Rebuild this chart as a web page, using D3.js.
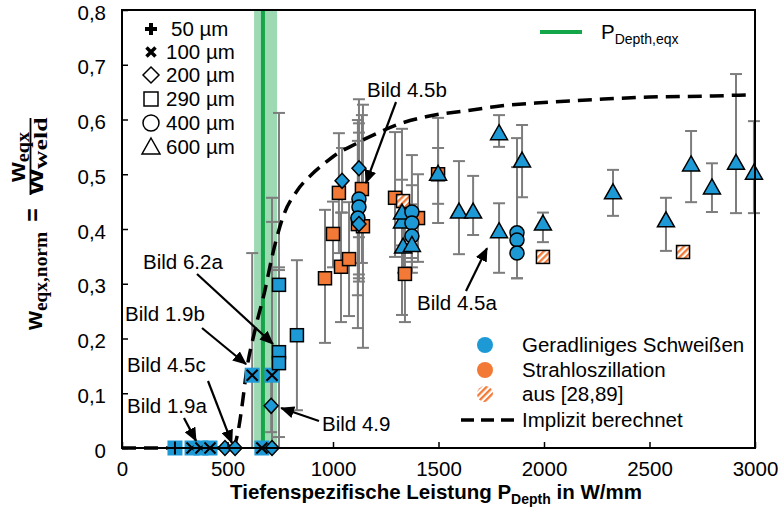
<!DOCTYPE html>
<html>
<head>
<meta charset="utf-8">
<script src="https://cdn.jsdelivr.net/npm/d3@7"></script>
<style>
  body { margin: 0; background: #fff; }
  svg { display: block; }
  text { font-family: "Liberation Sans", Arial, sans-serif; fill: #000; }
</style>
</head>
<body>
<svg id="chart" width="780" height="511"></svg>
<script>
// ---- axis ticks ----
const xTicks = [0, 500, 1000, 1500, 2000, 2500, 3000];
const xTickLabels = ["0", "500", "1000", "1500", "2000", "2500", "3000"];
const yTicks = [0, 0.1, 0.2, 0.3, 0.4, 0.5, 0.6, 0.7, 0.8];
const yTickLabels = ["0", "0,1", "0,2", "0,3", "0,4", "0,5", "0,6", "0,7", "0,8"];

// ---- P_Depth,eqx (threshold and its band) ----
const pDepthEqx = 668;
const pDepthEqxRange = [626, 735];

// ---- Geradliniges Schweißen: P_Depth (W/mm), w_eqx,norm, spot diameter (µm), error bar ends ----
const blueP  = [251, 332, 374, 417, 488, 536, 663, 711, 617, 711, 707, 744, 744, 744, 829,
                1043, 1123, 1123, 1123, 1118, 1123,
                1327, 1327, 1374, 1374, 1374, 1332, 1374,
                1498, 1597, 1664, 1787, 1787, 1896, 1872, 1872, 1872, 1995,
                2327, 2578, 2697, 2796, 2910, 2995];
const blueW  = [0, 0, 0, 0, 0, 0, 0, 0, 0.133, 0.133, 0.077, 0.298, 0.175, 0.155, 0.206,
                0.488, 0.511, 0.455, 0.44, 0.42, 0.409,
                0.413, 0.429, 0.431, 0.411, 0.387, 0.367, 0.37,
                0.50, 0.431, 0.431, 0.574, 0.395, 0.524, 0.393, 0.38, 0.356, 0.409,
                0.466, 0.415, 0.517, 0.475, 0.52, 0.502];
const blueD  = [50, 100, 100, 100, 200, 200, 100, 200, 100, 100, 200, 290, 290, 290, 290,
                200, 200, 400, 400, 400, 200,
                600, 600, 400, 400, 400, 600, 600,
                600, 600, 600, 600, 600, 600, 400, 400, 400, 600,
                600, 600, 600, 600, 600, 600];
const blueLo = [null, null, null, null, null, null, null, 0, 0, 0, 0.029, 0, 0.02, 0, 0.069,
                0.43, 0.385, 0.317, 0.304, 0.279, 0.31,
                0.243, 0.37, 0.347, 0.34, 0.33, 0.32, 0.32,
                0.446, 0.354, 0.389, 0.55, 0.32, 0.458, 0.31, 0.31, null, 0.376,
                0.424, 0.36, 0.449, 0.431, 0.429, 0.429];
const blueHi = [null, null, null, null, null, null, null, 0.413, 0.356, 0.457, 0.125, 0.612, 0.33, 0.325, 0.343,
                0.548, 0.637, 0.593, 0.576, 0.561, 0.508,
                0.583, 0.49, 0.535, 0.48, 0.445, 0.415, 0.42,
                0.548, 0.524, 0.497, 0.608, 0.447, 0.59, 0.566, 0.513, null, 0.43,
                0.508, 0.457, 0.579, 0.52, 0.683, 0.597];

// ---- Strahloszillation ----
const orangeP  = [962, 1000, 1028, 1038, 1076, 1137, 1118, 1142, 1294, 1341, 1403, 1498];
const orangeW  = [0.31, 0.391, 0.466, 0.331, 0.345, 0.473, 0.409, 0.405, 0.457, 0.318, 0.42, 0.50];
const orangeD  = [290, 290, 290, 290, 290, 290, 290, 290, 290, 290, 290, 290];
const orangeLo = [0.192, 0.33, 0.356, 0.23, 0.241, 0.338, 0.219, 0.183, 0.349, 0.23, 0.34, 0.411];
const orangeHi = [0.435, 0.45, 0.575, 0.43, 0.449, 0.608, 0.599, 0.627, 0.577, 0.41, 0.5, 0.603];

// ---- aus [28,89] ----
const litP = [1332, 1995, 2659];
const litW = [0.451, 0.349, 0.358];
const litD = [290, 290, 290];

// ---- Implizit berechnet ----
const curveP = [0, 525, 550, 570, 590, 630, 678, 711, 763, 830, 900, 960, 1030, 1080, 1160,
                1210, 1300, 1440, 1650, 1800, 1960, 2120, 2265, 2500, 2800, 2960];
const curveW = [0, 0, 0.03, 0.08, 0.14, 0.215, 0.289, 0.349, 0.422, 0.47, 0.50, 0.52, 0.54, 0.55, 0.566,
                0.575, 0.59, 0.605, 0.617, 0.625, 0.63, 0.634, 0.637, 0.641, 0.643, 0.645];

// ---- legend entries ----
const diameterLegend = [50, 100, 200, 290, 400, 600];
const diameterLabels = ["50 µm", "100 µm", "200 µm", "290 µm", "400 µm", "600 µm"];
const groupLabels = ["Geradliniges Schweißen", "Strahloszillation", "aus [28,89]", "Implizit berechnet"];

// ---- figure references (target in data units) ----
const annoLabels = ["Bild 4.5b", "Bild 6.2a", "Bild 1.9b", "Bild 4.5c", "Bild 1.9a", "Bild 4.9", "Bild 4.5a"];
const annoTargetP = [1156, 716, 588, 521, 351, 754, 1730];
const annoTargetW = [0.484, 0.19, 0.153, 0.009, 0.013, 0.073, 0.365];

// ---------------- drawing ----------------
const BLUE = "#1d9ad6", ORANGE = "#f27a36", GREEN = "#16a64a", GREY = "#7d7d7d";
const FS = 20.5;
const svg = d3.select("#chart");
const x = d3.scaleLinear().domain([0, 3000]).range([122, 755]);
const y = d3.scaleLinear().domain([0, 0.8]).range([448, 10]);

const defs = svg.append("defs");
const hatch = defs.append("pattern").attr("id", "hatch")
  .attr("patternUnits", "userSpaceOnUse").attr("width", 4.5).attr("height", 4.5)
  .attr("patternTransform", "rotate(45)");
hatch.append("rect").attr("width", 4.5).attr("height", 4.5).attr("fill", "#fff");
hatch.append("rect").attr("width", 2.3).attr("height", 4.5).attr("fill", ORANGE);
defs.append("marker").attr("id", "arrow").attr("markerUnits", "userSpaceOnUse")
  .attr("viewBox", "0 0 14 12").attr("refX", 13).attr("refY", 6)
  .attr("markerWidth", 14).attr("markerHeight", 12).attr("orient", "auto")
  .append("path").attr("d", "M0,0L14,6L0,12Z").attr("fill", "#000");

// P_Depth,eqx band and line
svg.append("rect")
  .attr("x", x(pDepthEqxRange[0])).attr("y", y(0.8))
  .attr("width", x(pDepthEqxRange[1]) - x(pDepthEqxRange[0])).attr("height", y(0) - y(0.8))
  .attr("fill", GREEN).attr("opacity", 0.42);
svg.append("line")
  .attr("x1", x(pDepthEqx)).attr("x2", x(pDepthEqx)).attr("y1", y(0.8)).attr("y2", y(0))
  .attr("stroke", GREEN).attr("stroke-width", 4);

// error bars
function errorBars(P, lo, hi) {
  const g = svg.append("g").attr("stroke", GREY).attr("stroke-width", 2);
  P.forEach((p, i) => {
    if (lo[i] == null) return;
    const px = x(p);
    g.append("line").attr("x1", px).attr("x2", px).attr("y1", y(lo[i])).attr("y2", y(hi[i]));
    [lo[i], hi[i]].forEach(v => {
      if (v <= 0) return;
      g.append("line").attr("x1", px - 6).attr("x2", px + 6).attr("y1", y(v)).attr("y2", y(v));
    });
  });
}
errorBars(orangeP, orangeLo, orangeHi);
errorBars(blueP, blueLo, blueHi);

// implicit model curve
svg.append("path")
  .datum(curveP.map((p, i) => [p, curveW[i]]))
  .attr("fill", "none").attr("stroke", "#000").attr("stroke-width", 3.5)
  .attr("stroke-dasharray", "14,8")
  .attr("d", d3.line().x(d => x(d[0])).y(d => y(d[1])).curve(d3.curveMonotoneX));

// markers by spot diameter
function marker(g, d, fill) {
  const sw = 1.5;
  if (d === 50 || d === 100) {
    g.append("rect").attr("x", -7.5).attr("y", -7.5).attr("width", 15).attr("height", 15).attr("fill", fill);
    g.append("path").attr("d", d === 50 ? "M-6.5,0H6.5M0,-6.5V6.5" : "M-5.5,-5.5L5.5,5.5M-5.5,5.5L5.5,-5.5")
      .attr("stroke", "#000").attr("stroke-width", 2).attr("fill", "none");
  } else if (d === 200) {
    g.append("path").attr("d", "M0,-7.5L7,0L0,7.5L-7,0Z").attr("fill", fill).attr("stroke", "#000").attr("stroke-width", sw);
  } else if (d === 290) {
    g.append("rect").attr("x", -6.5).attr("y", -6.5).attr("width", 13).attr("height", 13)
      .attr("fill", fill).attr("stroke", "#000").attr("stroke-width", sw);
  } else if (d === 400) {
    g.append("circle").attr("r", 7).attr("fill", fill).attr("stroke", "#000").attr("stroke-width", sw);
  } else {
    g.append("path").attr("d", "M0,-9L8.5,6L-8.5,6Z").attr("fill", fill).attr("stroke", "#000").attr("stroke-width", sw);
  }
}
function markers(P, W, D, fill) {
  const g = svg.append("g");
  P.forEach((p, i) => {
    marker(g.append("g").attr("transform", `translate(${x(p)},${y(W[i])})`), D[i], fill);
  });
}
markers(orangeP, orangeW, orangeD, ORANGE);
markers(litP, litW, litD, "url(#hatch)");
markers(blueP, blueW, blueD, BLUE);

// frame
svg.append("rect").attr("x", x(0)).attr("y", y(0.8))
  .attr("width", x(3000) - x(0)).attr("height", y(0) - y(0.8))
  .attr("fill", "none").attr("stroke", "#000").attr("stroke-width", 2);

// axes
const xAxis = svg.append("g").attr("transform", `translate(0,${y(0)})`)
  .call(d3.axisBottom(x).tickValues(xTicks).tickFormat((d, i) => xTickLabels[i])
    .tickSizeInner(-6).tickSizeOuter(0).tickPadding(13));
const yAxis = svg.append("g").attr("transform", `translate(${x(0)},0)`)
  .call(d3.axisLeft(y).tickValues(yTicks).tickFormat((d, i) => yTickLabels[i])
    .tickSizeInner(-6).tickSizeOuter(0).tickPadding(16));
[xAxis, yAxis].forEach(a => {
  a.select(".domain").remove();
  a.selectAll(".tick line").attr("stroke", "#000").attr("stroke-width", 1.5);
  a.selectAll(".tick text").attr("font-size", 20.5).attr("font-family", "Liberation Sans, Arial, sans-serif").attr("fill", "#000");
});
yAxis.selectAll(".tick text").attr("dy", "0.45em");

// x-axis title
const xt = svg.append("text").attr("x", 436).attr("y", 499).attr("text-anchor", "middle")
  .attr("font-size", FS).attr("font-weight", "bold");
xt.append("tspan").text("Tiefenspezifische Leistung P");
xt.append("tspan").attr("font-size", 14).attr("dy", 5).text("Depth");
xt.append("tspan").attr("dy", -5).text(" in W/mm");

// y-axis title (rotated fraction)
const yl = svg.append("g").attr("transform", "translate(0,224) rotate(-90)").attr("font-weight", "bold");
const t1 = yl.append("text").attr("x", -106).attr("y", 42).attr("font-size", 24)
  .attr("textLength", 98).attr("lengthAdjust", "spacingAndGlyphs");
t1.append("tspan").text("w");
t1.append("tspan").attr("font-size", 19).attr("dy", 5).attr("font-family", "Liberation Serif, serif").text("eqx,norm");
yl.append("text").attr("x", 9).attr("y", 41).attr("text-anchor", "middle").attr("font-size", 23).text("=");
yl.append("line").attr("x1", 29).attr("x2", 106).attr("y1", 30.5).attr("y2", 30.5).attr("stroke", "#000").attr("stroke-width", 1.8);
const t2 = yl.append("text").attr("x", 67).attr("y", 25).attr("text-anchor", "middle").attr("font-size", 24)
  .attr("textLength", 50).attr("lengthAdjust", "spacingAndGlyphs");
t2.append("tspan").text("w");
t2.append("tspan").attr("font-size", 19).attr("dy", 4).attr("font-family", "Liberation Serif, serif").text("eqx");
const t3 = yl.append("text").attr("x", 68).attr("y", 43).attr("text-anchor", "middle").attr("font-size", 24)
  .attr("textLength", 77).attr("lengthAdjust", "spacingAndGlyphs");
t3.append("tspan").text("w");
t3.append("tspan").attr("font-size", 19).attr("dy", 4).attr("font-family", "Liberation Serif, serif").text("weld");

// diameter legend (top left)
const legRows = [29, 52, 75, 99, 123, 147];
diameterLegend.forEach((d, i) => {
  const g = svg.append("g").attr("transform", `translate(151,${legRows[i]})`);
  if (d === 50) {
    g.append("path").attr("d", "M-6,0H6M0,-6V6").attr("stroke", "#000").attr("stroke-width", 4);
  } else if (d === 100) {
    g.append("path").attr("d", "M-4.5,-4.5L4.5,4.5M-4.5,4.5L4.5,-4.5").attr("stroke", "#000").attr("stroke-width", 3.5);
  } else if (d === 200) {
    g.append("path").attr("d", "M0,-8L8,0L0,8L-8,0Z").attr("fill", "#fff").attr("stroke", "#000").attr("stroke-width", 1.5);
  } else if (d === 290) {
    g.append("rect").attr("x", -7).attr("y", -7).attr("width", 14).attr("height", 14).attr("fill", "#fff").attr("stroke", "#000").attr("stroke-width", 1.5);
  } else if (d === 400) {
    g.append("circle").attr("r", 8).attr("fill", "#fff").attr("stroke", "#000").attr("stroke-width", 1.5);
  } else {
    g.append("path").attr("d", "M0,-9L9,7L-9,7Z").attr("fill", "#fff").attr("stroke", "#000").attr("stroke-width", 1.5);
  }
  svg.append("text").attr("x", d === 50 ? 171 : 166).attr("y", legRows[i] + 7).attr("font-size", FS).text(diameterLabels[i]);
});

// P_Depth,eqx legend (top right)
svg.append("line").attr("x1", 540).attr("x2", 582).attr("y1", 32).attr("y2", 32).attr("stroke", GREEN).attr("stroke-width", 4);
const pl = svg.append("text").attr("x", 601).attr("y", 39).attr("font-size", FS);
pl.append("tspan").text("P");
pl.append("tspan").attr("font-size", 14).attr("dy", 5).text("Depth,eqx");

// group legend (bottom right)
const gRows = [345, 370, 394, 420];
svg.append("circle").attr("cx", 485).attr("cy", gRows[0]).attr("r", 8).attr("fill", BLUE);
svg.append("circle").attr("cx", 485).attr("cy", gRows[1]).attr("r", 8).attr("fill", ORANGE);
svg.append("circle").attr("cx", 485).attr("cy", gRows[2]).attr("r", 8).attr("fill", "url(#hatch)");
svg.append("line").attr("x1", 461).attr("x2", 514).attr("y1", gRows[3]).attr("y2", gRows[3])
  .attr("stroke", "#000").attr("stroke-width", 3.5).attr("stroke-dasharray", "13,7");
groupLabels.forEach((t, i) => {
  svg.append("text").attr("x", 522).attr("y", gRows[i] + 7).attr("font-size", FS).text(t);
});

// figure references with arrows
const annoText = [[367, 97], [143, 269], [125, 321], [127, 372], [127, 413], [322, 431], [417, 310]];
const annoTail = [[396, 102], [197, 274], [202, 328], [208, 381], [184, 418], [319, 421], [466, 291]];
annoLabels.forEach((t, i) => {
  svg.append("line")
    .attr("x1", annoTail[i][0]).attr("y1", annoTail[i][1])
    .attr("x2", x(annoTargetP[i])).attr("y2", y(annoTargetW[i]))
    .attr("stroke", "#000").attr("stroke-width", 2.2).attr("marker-end", "url(#arrow)");
  svg.append("text").attr("x", annoText[i][0]).attr("y", annoText[i][1]).attr("font-size", FS).text(t);
});
</script>
</body>
</html>
